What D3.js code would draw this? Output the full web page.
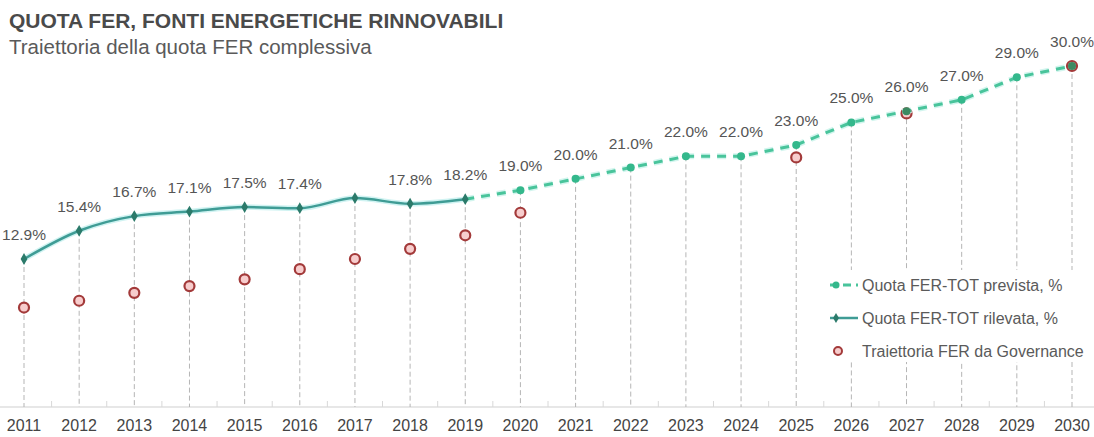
<!DOCTYPE html>
<html lang="it">
<head>
    <meta charset="UTF-8">
    <title>Quota FER</title>
    <script src="https://d3js.org/d3.v7.min.js"></script>
    <style>
        body {
            margin: 0;
            background: #fff;
            font-family: "Liberation Sans", Arial, sans-serif;
        }
        .title { font-size: 21px; font-weight: bold; fill: #4a4a4a; }
        .subtitle { font-size: 20.5px; fill: #5a5a5a; }
        .val-label { font-size: 15.5px; fill: #555; }
        .legend-text { font-size: 16px; fill: #5a5a5a; }
        .year { font-size: 16px; fill: #444; }
    </style>
</head>
<body>
    <div id="chart"></div>
    <script>
        // anni
        const years = d3.range(2011, 2031);
        // quota rilevata 2011-2019
        const rilevataYears = [2011, 2012, 2013, 2014, 2015, 2016, 2017, 2018, 2019];
        const rilevata = [12.9, 15.4, 16.7, 17.1, 17.5, 17.4, 18.3, 17.8, 18.2];
        // quota prevista 2019-2030
        const previstaYears = [2019, 2020, 2021, 2022, 2023, 2024, 2025, 2026, 2027, 2028, 2029, 2030];
        const prevista = [18.2, 19.0, 20.0, 21.0, 22.0, 22.0, 23.0, 25.0, 26.0, 27.0, 29.0, 30.0];
        // traiettoria governance
        const govYears = [2011, 2012, 2013, 2014, 2015, 2016, 2017, 2018, 2019, 2020, 2025, 2027, 2030];
        const governance = [8.6, 9.2, 9.9, 10.5, 11.1, 12.0, 12.9, 13.8, 15.0, 17.0, 21.9, 25.8, 30.0];
        // etichette (2017 senza etichetta)
        const labelYears = [2011, 2012, 2013, 2014, 2015, 2016, 2018, 2019, 2020, 2021, 2022, 2023, 2024, 2025, 2026, 2027, 2028, 2029, 2030];
        const labelText = ["12.9%", "15.4%", "16.7%", "17.1%", "17.5%", "17.4%", "17.8%", "18.2%", "19.0%", "20.0%", "21.0%", "22.0%", "22.0%", "23.0%", "25.0%", "26.0%", "27.0%", "29.0%", "30.0%"];
        const legendLabels = ["Quota FER-TOT prevista, %", "Quota FER-TOT rilevata, %", "Traiettoria FER da Governance"];

        const width = 1094, height = 437;
        const baseY = 407;

        const svg = d3.select("#chart")
            .append("svg")
            .attr("width", width)
            .attr("height", height);

        const x = d3.scalePoint()
            .domain(years)
            .range([24, 1072]);

        const y = d3.scaleLinear()
            .domain([0, 30])
            .range([404.6, 66]);

        const rilData = rilevataYears.map((yr, i) => ({year: yr, v: rilevata[i]}));
        const prevData = previstaYears.map((yr, i) => ({year: yr, v: prevista[i]}));
        const govData = govYears.map((yr, i) => ({year: yr, v: governance[i]}));

        // valore più alto per anno (per le linee verticali)
        const topVal = new Map();
        rilData.concat(prevData).forEach(d => {
            topVal.set(d.year, Math.max(topVal.get(d.year) || 0, d.v));
        });

        // titolo
        svg.append("text").attr("class", "title")
            .attr("x", 9).attr("y", 28)
            .text("QUOTA FER, FONTI ENERGETICHE RINNOVABILI");
        svg.append("text").attr("class", "subtitle")
            .attr("x", 9).attr("y", 54)
            .text("Traiettoria della quota FER complessiva");

        // asse x
        svg.append("line")
            .attr("x1", 0).attr("x2", width)
            .attr("y1", baseY).attr("y2", baseY)
            .attr("stroke", "#cfcfcf");

        svg.append("g")
            .selectAll("line")
            .data(years.slice(0, -1))
            .enter().append("line")
            .attr("x1", d => x(d) + x.step() / 2)
            .attr("x2", d => x(d) + x.step() / 2)
            .attr("y1", baseY - 6).attr("y2", baseY)
            .attr("stroke", "#d8d8d8");

        // linee verticali tratteggiate
        svg.append("g")
            .selectAll("line")
            .data(years)
            .enter().append("line")
            .attr("x1", d => x(d)).attr("x2", d => x(d))
            .attr("y1", d => y(topVal.get(d)))
            .attr("y2", baseY)
            .attr("stroke", "#b5b5b5")
            .attr("stroke-width", 1)
            .attr("stroke-dasharray", "5,3");

        svg.append("g")
            .selectAll("text")
            .data(years)
            .enter().append("text")
            .attr("class", "year")
            .attr("x", d => x(d))
            .attr("y", 431)
            .attr("text-anchor", "middle")
            .text(d => d);

        // traiettoria governance
        svg.append("g")
            .selectAll("circle")
            .data(govData)
            .enter().append("circle")
            .attr("cx", d => x(d.year))
            .attr("cy", d => y(d.v))
            .attr("r", 5)
            .attr("fill", "#f7cdcd")
            .attr("stroke", "#a33a3a")
            .attr("stroke-width", 2.2);

        const smooth = d3.line()
            .x(d => x(d.year))
            .y(d => y(d.v))
            .curve(d3.curveMonotoneX);
        const straight = d3.line()
            .x(d => x(d.year))
            .y(d => y(d.v));

        // prevista (tratteggiata)
        svg.append("path")
            .datum(prevData)
            .attr("fill", "none")
            .attr("stroke", "#d2f5ee")
            .attr("stroke-width", 6)
            .attr("stroke-dasharray", "9,7")
            .attr("d", straight);
        svg.append("path")
            .datum(prevData)
            .attr("fill", "none")
            .attr("stroke", "#49c49b")
            .attr("stroke-width", 3)
            .attr("stroke-dasharray", "9,7")
            .attr("d", straight);

        svg.append("g")
            .selectAll("circle")
            .data(prevData.slice(1))
            .enter().append("circle")
            .attr("cx", d => x(d.year))
            .attr("cy", d => y(d.v))
            .attr("r", 4)
            .attr("fill", d => (d.year === 2027 || d.year === 2030) ? "#3c8a62" : "#34b88c");

        // rilevata (continua)
        svg.append("path")
            .datum(rilData)
            .attr("fill", "none")
            .attr("stroke", "#d0f3f2")
            .attr("stroke-width", 5.5)
            .attr("d", smooth);
        svg.append("path")
            .datum(rilData)
            .attr("fill", "none")
            .attr("stroke", "#3f9c95")
            .attr("stroke-width", 2.5)
            .attr("d", smooth);

        svg.append("g")
            .selectAll("path")
            .data(rilData)
            .enter().append("path")
            .attr("transform", d => `translate(${x(d.year)},${y(d.v)})`)
            .attr("d", d3.symbol().type(d3.symbolDiamond).size(40))
            .attr("fill", "#2b7a6a");

        // etichette valori
        const valueOf = new Map();
        rilData.forEach(d => valueOf.set(d.year, d.v));
        prevData.forEach(d => valueOf.set(d.year, d.v));
        svg.append("g")
            .selectAll("text")
            .data(labelYears)
            .enter().append("text")
            .attr("class", "val-label")
            .attr("x", d => x(d))
            .attr("y", d => y(valueOf.get(d)) - 19)
            .attr("text-anchor", "middle")
            .text((d, i) => labelText[i]);

        // legenda
        const lg = svg.append("g");
        lg.append("rect")
            .attr("x", 826).attr("y", 270)
            .attr("width", 268).attr("height", 92)
            .attr("fill", "#fff");

        const rows = [285, 318, 351];
        lg.append("line")
            .attr("x1", 830).attr("x2", 858)
            .attr("y1", rows[0]).attr("y2", rows[0])
            .attr("stroke", "#49c49b").attr("stroke-width", 3)
            .attr("stroke-dasharray", "8,5");
        lg.append("circle").attr("cx", 836).attr("cy", rows[0]).attr("r", 3.5).attr("fill", "#34b88c");

        lg.append("line")
            .attr("x1", 830).attr("x2", 858)
            .attr("y1", rows[1]).attr("y2", rows[1])
            .attr("stroke", "#3f9c95").attr("stroke-width", 2.5);
        lg.append("path")
            .attr("transform", `translate(836,${rows[1]})`)
            .attr("d", d3.symbol().type(d3.symbolDiamond).size(30))
            .attr("fill", "#2b7a6a");

        lg.append("circle").attr("cx", 838).attr("cy", rows[2]).attr("r", 4)
            .attr("fill", "#f7cdcd").attr("stroke", "#a33a3a").attr("stroke-width", 2);

        lg.selectAll("text.legend-text")
            .data(legendLabels)
            .enter().append("text")
            .attr("class", "legend-text")
            .attr("x", 862)
            .attr("y", (d, i) => rows[i] + 5.5)
            .text(d => d);
    </script>
</body>
</html>
